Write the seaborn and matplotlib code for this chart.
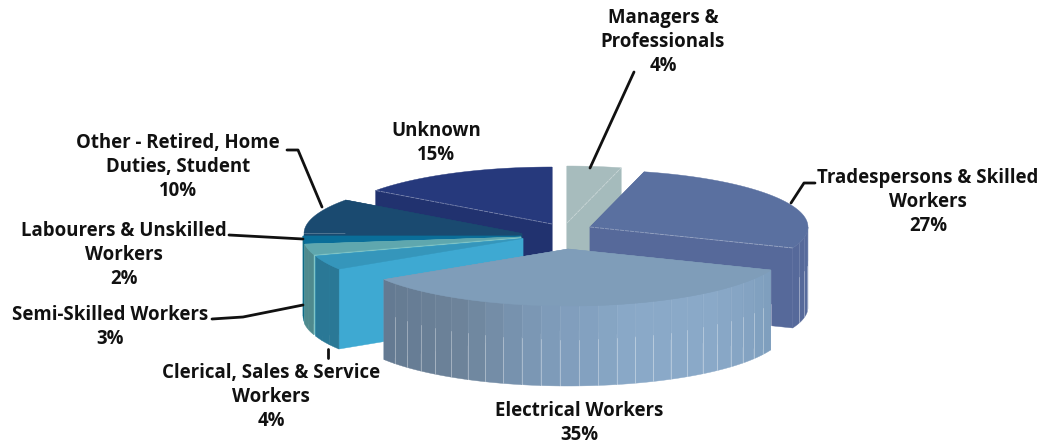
import numpy as np
import matplotlib
matplotlib.use("Agg")
import matplotlib.pyplot as plt
import seaborn as sns

# ---- chart data ----
categories = ["Managers &\nProfessionals", "Tradespersons & Skilled\nWorkers", "Electrical Workers",
              "Clerical, Sales & Service\nWorkers", "Semi-Skilled Workers",
              "Labourers & Unskilled\nWorkers", "Other - Retired, Home\nDuties, Student", "Unknown"]
shares = [4, 27, 35, 4, 3, 2, 10, 15]

# ---- style ----
top_colors = ["#a7bcbd", "#5a70a0", "#7f9db9", "#3596bb", "#5fa7ae", "#0a6e99", "#1a4a70", "#26397c"]
cut_colors = ["#a5bbbc", "#56699a", "#7f9db9", "#3ea9d2", "#7fc4c6", "#0a6e99", "#1a4a70", "#21326f"]
# wall colour ramps run clockwise, i.e. right to left along the front of the pie
wall_ramps = [["#a5bbbc", "#a5bbbc"], ["#5a6f9f", "#56699a", "#56699a"],
              ["#7f9fbe", "#8aa9c8", "#8aa9c8", "#7d9ab8", "#6c8299", "#647a92"],
              ["#2a7896", "#2a7896"], ["#4f8a8e", "#4f8a8e"], ["#0c6a86", "#0c6a86"],
              ["#14506c", "#14506c"], ["#21326f", "#21326f"]]
# pie geometry in figure pixels
RX, RY, DEPTH = 218.0, 57.0, 80.0
apex_x = [567, 590, 568, 523, 521, 521, 522, 552]
apex_y = [223, 227, 249, 238.5, 237, 236, 233.5, 224]
draw_order = [7, 0, 1, 6, 5, 4, 3, 2]
# (slice index, which boundary) of the faint lines on the top faces
edge_lines = [(0, 1), (1, 1), (7, 0)]
FACET_DEG = 5.04

sns.set_theme(style="white")
plt.rcParams["font.family"] = ["Open Sans", "DejaVu Sans"]
fig, ax = plt.subplots(figsize=(10.43, 4.45), dpi=100)
ax.set_position([0, 0, 1, 1])
ax.set_xlim(0, 1043)
ax.set_ylim(445, 0)
ax.axis("off")

edges = np.concatenate([[0], np.cumsum(shares)]) / sum(shares) * 360.0


def rim(cx, cy, deg):
    t = np.radians(deg)
    return cx + RX * np.sin(t), cy - RY * np.cos(t)


for i in draw_order:
    a0, a1 = edges[i], edges[i + 1]
    cx, cy = apex_x[i], apex_y[i]
    z = 1 + draw_order.index(i)
    # radial cut faces, farther one first
    cuts = sorted([a0, a1], key=lambda d: rim(cx, cy, d)[1])
    for d in cuts:
        x, y = rim(cx, cy, d)
        ax.fill([cx, x, x, cx], [cy, y, y + DEPTH, cy + DEPTH], color=cut_colors[i], lw=0.3, zorder=z)
    # outer wall, split into facets
    lo, hi = max(a0, 90.0), min(a1, 270.0)
    if hi > lo:
        n = max(1, int(round((hi - lo) / FACET_DEG)))
        steps = np.linspace(lo, hi, n + 1)
        ramp = sns.blend_palette(wall_ramps[i], n_colors=max(n, 2))
        for k in range(n):
            ang = np.linspace(steps[k], steps[k + 1], 6)
            xs, ys = rim(cx, cy, ang)
            ax.fill(np.r_[xs, xs[::-1]], np.r_[ys, ys[::-1] + DEPTH], color=ramp[k], lw=0.3, zorder=z + 0.1)
            if n > 3:
                ax.plot([xs[0], xs[0]], [ys[0], ys[0] + DEPTH], color="#ffffff", alpha=0.08, lw=0.7, zorder=z + 0.2)
                ax.plot([xs[0], xs[0]], [ys[0] + DEPTH * 0.42, ys[0] + DEPTH], color="#ffffff", alpha=0.3, lw=0.7,
                        zorder=z + 0.2)
    # top face
    ang = np.linspace(a0, a1, 80)
    xs, ys = rim(cx, cy, ang)
    ax.fill(np.r_[cx, xs], np.r_[cy, ys], color=top_colors[i], lw=0.3, zorder=z + 0.3)
    for j, which in edge_lines:
        if j == i:
            x, y = rim(cx, cy, edges[i + which])
            ax.plot([cx, x], [cy, y], color="#ffffff", alpha=0.35, lw=0.6, ls=(0, (5, 1)), zorder=z + 0.4)

# ---- labels ----
label_x = [663, 928, 579, 271, 110, 124, 178, 436]
label_y = [42, 202, 423, 397, 327, 255, 167, 143]
for name, val, x, y in zip(categories, shares, label_x, label_y):
    ax.text(x, y, f"{name}\n{val}%", ha="center", va="center", fontsize=13.4, fontweight="bold",
            color="#111111", linespacing=1.27, zorder=20)

# ---- leader lines ----
leaders = [([590, 634], [168, 72]),
           ([791, 804, 815], [203, 183, 183]),
           ([322, 298, 287], [207, 150, 150]),
           ([303, 229], [239, 235]),
           ([303, 243, 212], [305, 317, 319]),
           ([328, 328], [349, 358])]
for lx, ly in leaders:
    ax.plot(lx, ly, color="#111111", lw=2.0, solid_joinstyle="round", zorder=19)

fig.savefig("out.png", dpi=100)
